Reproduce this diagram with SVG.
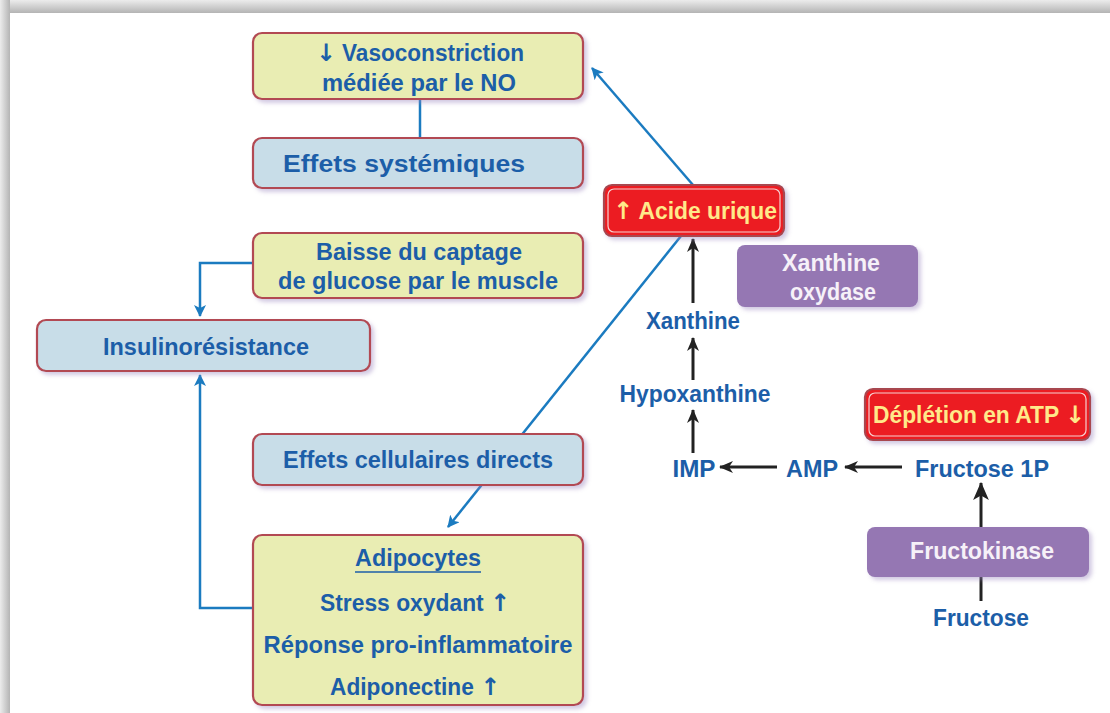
<svg xmlns="http://www.w3.org/2000/svg" width="1110" height="713" viewBox="0 0 1110 713">
<defs>
<linearGradient id="gTop" x1="0" y1="0" x2="0" y2="1"><stop offset="0" stop-color="#ececec"/><stop offset="1" stop-color="#b4b4b4"/></linearGradient>
<linearGradient id="gLeft" x1="0" y1="0" x2="1" y2="0"><stop offset="0" stop-color="#ececec"/><stop offset="1" stop-color="#b4b4b4"/></linearGradient>
<filter id="sh" x="-10%" y="-20%" width="125%" height="150%"><feDropShadow dx="3" dy="3" stdDeviation="2" flood-color="#9b86c0" flood-opacity="0.45"/></filter>
<marker id="mb" viewBox="0 0 12 12" refX="11" refY="6" markerWidth="12" markerHeight="12" markerUnits="userSpaceOnUse" orient="auto"><path d="M0,0 L12,6 L0,12 L3,6 Z" fill="#1b7bc0"/></marker>
<marker id="mk" viewBox="0 0 14 14" refX="13" refY="7" markerWidth="14" markerHeight="14" markerUnits="userSpaceOnUse" orient="auto"><path d="M0,1 L14,7 L0,13 L4,7 Z" fill="#222"/></marker>
<marker id="mk2" viewBox="0 0 16 16" refX="15" refY="8" markerWidth="18" markerHeight="18" markerUnits="userSpaceOnUse" orient="auto"><path d="M0,1 L16,8 L0,15 L4,8 Z" fill="#222"/></marker>
</defs>
<style>
.t{font-family:"Liberation Sans",Arial,sans-serif;font-weight:bold;font-size:23px;fill:#1c5ea8;text-anchor:middle}
.ar{font-family:"DejaVu Sans",sans-serif;font-weight:bold;font-size:24px}
.ty{fill:#ffe98a}
.tw{fill:#f6f1f8}
.yel{fill:#e9edb3;stroke:#b24a52;stroke-width:2.2}
.blu{fill:#c8dde8;stroke:#b24a52;stroke-width:2.2}
.red{fill:#ec1c24;stroke:#a8474f;stroke-width:2.2}
.redin{fill:none;stroke:#f6d0d0;stroke-width:1.2}
.pur{fill:#9577b3}
.bl{fill:none;stroke:#1b7bc0;stroke-width:2.5}
.bk{fill:none;stroke:#222;stroke-width:3}
</style>
<rect x="0" y="0" width="1110" height="713" fill="#d0d0d0"/>
<rect x="0" y="0" width="1110" height="13" fill="url(#gTop)"/>
<rect x="0" y="0" width="10" height="713" fill="url(#gLeft)"/>
<rect x="10" y="13" width="1100" height="700" fill="#ffffff"/>

<g id="connectors">
<line class="bl" x1="420" y1="99" x2="420" y2="138"/>
<line class="bl" x1="693" y1="185" x2="592" y2="68" marker-end="url(#mb)"/>
<line class="bl" x1="681" y1="236" x2="448" y2="527" marker-end="url(#mb)"/>
<polyline class="bl" points="253,263 200,263 200,316" marker-end="url(#mb)"/>
<polyline class="bl" points="253,608 200,608 200,375" marker-end="url(#mb)"/>
<line class="bk" x1="693" y1="303" x2="693" y2="239" marker-end="url(#mk)"/>
<line class="bk" x1="693" y1="380" x2="693" y2="338" marker-end="url(#mk)"/>
<line class="bk" x1="693" y1="453" x2="693" y2="410" marker-end="url(#mk)"/>
<line class="bk" x1="777" y1="467" x2="720" y2="467" marker-end="url(#mk)"/>
<line class="bk" x1="902" y1="467" x2="845" y2="467" marker-end="url(#mk)"/>
<line class="bk" stroke-width="5" x1="981" y1="601" x2="981" y2="483" marker-end="url(#mk2)"/>
</g>

<g id="n-vaso"><rect class="yel" filter="url(#sh)" x="253" y="33" width="330" height="66" rx="9"/>
<text class="t" x="420" y="61" textLength="208" lengthAdjust="spacingAndGlyphs"><tspan class="ar">↓</tspan> Vasoconstriction</text>
<text class="t" x="419" y="91" textLength="194" lengthAdjust="spacingAndGlyphs">médiée par le NO</text></g>

<g id="n-sys"><rect class="blu" filter="url(#sh)" x="253" y="138" width="330" height="50" rx="9"/>
<text class="t" x="404" y="172" textLength="242" lengthAdjust="spacingAndGlyphs">Effets systémiques</text></g>

<g id="n-baisse"><rect class="yel" filter="url(#sh)" x="253" y="233" width="330" height="65" rx="9"/>
<text class="t" x="419" y="260" textLength="206" lengthAdjust="spacingAndGlyphs">Baisse du captage</text>
<text class="t" x="418" y="289" textLength="280" lengthAdjust="spacingAndGlyphs">de glucose par le muscle</text></g>

<g id="n-insulin"><rect class="blu" filter="url(#sh)" x="37" y="320" width="333" height="51" rx="9"/>
<text class="t" x="206" y="355" textLength="206" lengthAdjust="spacingAndGlyphs">Insulinorésistance</text></g>

<g id="n-cell"><rect class="blu" filter="url(#sh)" x="253" y="434" width="330" height="51" rx="9"/>
<text class="t" x="418" y="468" textLength="270" lengthAdjust="spacingAndGlyphs">Effets cellulaires directs</text></g>

<g id="n-adipo"><rect class="yel" filter="url(#sh)" x="253" y="535" width="330" height="170" rx="9"/>
<text class="t" x="418" y="566" textLength="126" lengthAdjust="spacingAndGlyphs">Adipocytes</text>
<line x1="355" y1="572" x2="481" y2="572" stroke="#1c5ea8" stroke-width="1.6"/>
<text class="t" x="415" y="611" textLength="190" lengthAdjust="spacingAndGlyphs">Stress oxydant <tspan class="ar">↑</tspan></text>
<text class="t" x="418" y="653" textLength="309" lengthAdjust="spacingAndGlyphs">Réponse pro-inflammatoire</text>
<text class="t" x="415" y="695" textLength="170" lengthAdjust="spacingAndGlyphs">Adiponectine <tspan class="ar">↑</tspan></text></g>

<g id="n-acide"><rect class="red" filter="url(#sh)" x="604" y="185" width="180" height="51" rx="8"/>
<rect class="redin" x="608" y="189" width="172" height="43" rx="6"/>
<text class="t ty" x="695" y="219" textLength="164" lengthAdjust="spacingAndGlyphs"><tspan class="ar">↑</tspan> Acide urique</text></g>

<g id="n-xo"><rect class="pur" filter="url(#sh)" x="737" y="245" width="181" height="62" rx="8"/>
<text class="t tw" x="831" y="271" textLength="98" lengthAdjust="spacingAndGlyphs">Xanthine</text>
<text class="t tw" x="833" y="300" textLength="86" lengthAdjust="spacingAndGlyphs">oxydase</text></g>

<g id="n-xanthine"><text class="t" x="693" y="329" textLength="94" lengthAdjust="spacingAndGlyphs">Xanthine</text></g>
<g id="n-hypo"><text class="t" x="695" y="402" textLength="151" lengthAdjust="spacingAndGlyphs">Hypoxanthine</text></g>
<g id="n-imp"><text class="t" x="694" y="477" textLength="43" lengthAdjust="spacingAndGlyphs">IMP</text></g>
<g id="n-amp"><text class="t" x="812" y="477" textLength="52" lengthAdjust="spacingAndGlyphs">AMP</text></g>
<g id="n-f1p"><text class="t" x="982" y="477" textLength="134" lengthAdjust="spacingAndGlyphs">Fructose 1P</text></g>

<g id="n-atp"><rect class="red" filter="url(#sh)" x="865" y="389" width="225" height="51" rx="8"/>
<rect class="redin" x="869" y="393" width="217" height="43" rx="6"/>
<text class="t ty" x="979" y="423" textLength="212" lengthAdjust="spacingAndGlyphs">Déplétion en ATP <tspan class="ar">↓</tspan></text></g>

<g id="n-fk"><rect class="pur" filter="url(#sh)" x="867" y="527" width="222" height="50" rx="8"/>
<text class="t tw" x="982" y="559" textLength="144" lengthAdjust="spacingAndGlyphs">Fructokinase</text></g>

<g id="n-fructose"><text class="t" x="981" y="626" textLength="96" lengthAdjust="spacingAndGlyphs">Fructose</text></g>
</svg>
